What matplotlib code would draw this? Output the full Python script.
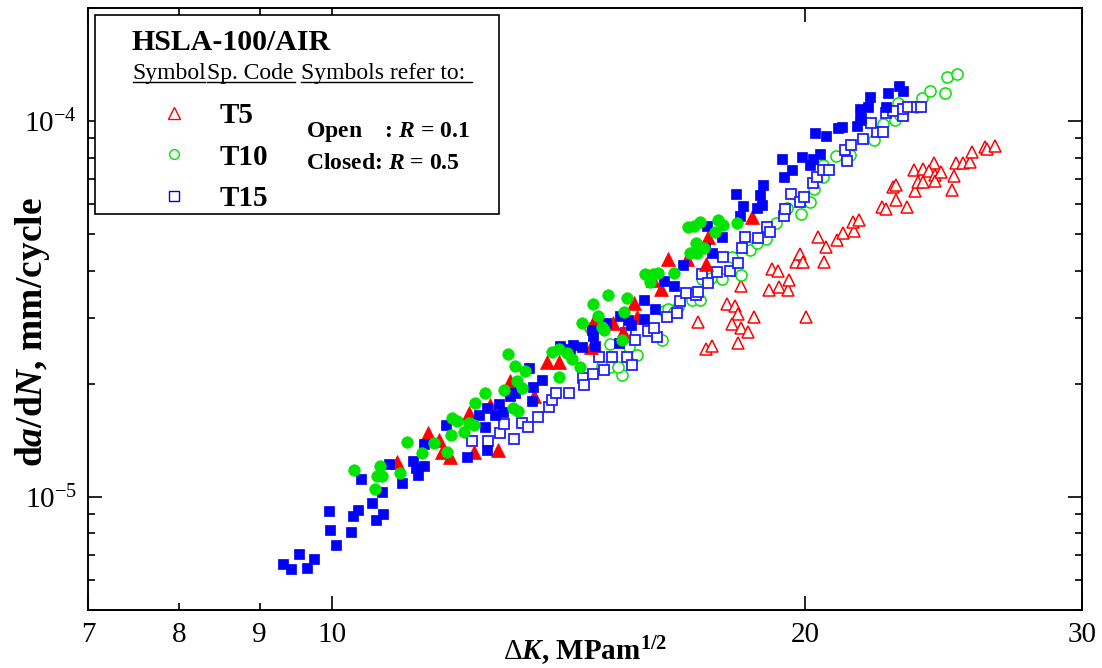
import matplotlib
matplotlib.use("Agg")
import matplotlib.pyplot as plt
import numpy as np
from matplotlib.lines import Line2D
from matplotlib.patches import Rectangle
from matplotlib.ticker import FixedLocator, FixedFormatter, NullFormatter, LogLocator, FuncFormatter

plt.rcParams['font.family'] = 'Liberation Serif'
plt.rcParams['mathtext.fontset'] = 'custom'
plt.rcParams['mathtext.rm'] = 'Liberation Serif'
plt.rcParams['mathtext.it'] = 'Liberation Serif:italic'
plt.rcParams['mathtext.bf'] = 'Liberation Serif:bold'
plt.rcParams['mathtext.bfit'] = 'Liberation Serif:bold:italic'

# da/dN values are in units of 1e-5 mm/cycle
# T5, R = 0.1 (open triangles)
t5_open_dk = [17.11, 17.30, 17.44, 17.85, 18.05, 18.14, 17.98, 18.22, 18.40, 18.14,
              18.56, 18.22, 18.96, 19.05, 19.23, 19.26, 19.51, 19.54, 19.75, 19.86,
              19.93, 20.04, 20.56, 20.63, 20.38, 20.96, 21.15, 21.50, 21.47, 21.63,
              22.37, 22.50, 22.85, 23.21, 22.76, 22.86, 23.48, 23.61, 23.78, 23.45,
              23.77, 24.15, 23.99, 24.20, 24.20, 24.41, 24.89, 24.79, 24.96, 25.22,
              25.47, 25.53, 26.01, 26.10, 26.40]
t5_open_rate = [2.92, 2.47, 2.52, 3.27, 3.23, 3.07, 2.89, 2.82, 2.74, 2.56,
                3.01, 3.64, 3.55, 4.03, 4.00, 3.61, 3.56, 3.77, 4.22, 4.43,
                4.22, 3.01, 4.21, 4.62, 4.92, 4.84, 5.05, 5.10, 5.40, 5.47,
                5.90, 5.85, 6.18, 5.92, 6.68, 6.77, 6.52, 6.87, 6.89, 7.41,
                7.45, 7.74, 7.38, 7.17, 6.93, 7.34, 7.14, 6.57, 7.72, 7.74,
                7.80, 8.29, 8.51, 8.41, 8.58]

# T5, R = 0.5 (closed triangles)
t5_closed_dk = [11.00, 11.52, 11.70, 11.75, 11.90, 12.31, 12.75, 12.23, 12.61, 12.99,
                13.02, 13.44, 13.71, 13.96, 14.62, 14.74, 14.66, 15.10, 15.57, 15.63,
                15.33, 16.01, 16.20, 16.37, 16.82, 17.29, 17.36, 18.50]
t5_closed_rate = [1.24, 1.48, 1.42, 1.32, 1.28, 1.32, 1.33, 1.67, 1.76, 2.04,
                  1.95, 1.85, 2.29, 2.29, 2.51, 2.99, 2.90, 2.90, 3.29, 3.02,
                  2.75, 3.78, 3.58, 4.29, 4.29, 4.16, 4.93, 5.54]

# T10, R = 0.1 (open circles)
t10_open_dk = [14.60, 15.03, 15.46, 15.63, 15.29, 15.04, 14.85, 15.21, 16.23, 16.28,
               16.37, 16.52, 16.60, 16.94, 17.15, 17.20, 17.43, 17.70, 17.96, 18.20,
               18.44, 18.63, 18.90, 19.18, 19.49, 19.87, 20.15, 20.27, 20.52, 20.53,
               20.94, 21.36, 22.14, 22.43, 22.81, 22.92, 22.98, 23.52, 23.74, 24.01,
               24.55, 24.61, 24.97]
t10_open_rate = [2.81, 2.55, 2.50, 2.39, 2.11, 2.22, 2.23, 2.22, 2.61, 3.12,
                 3.16, 3.10, 3.20, 3.34, 3.35, 3.79, 3.82, 3.81, 4.34, 3.90,
                 4.54, 4.75, 4.85, 5.36, 5.86, 5.66, 6.11, 6.60, 7.12, 7.64,
                 8.10, 8.15, 8.90, 9.81, 10.06, 11.17, 10.37, 10.90, 11.50, 12.06,
                 11.85, 13.07, 13.32]

# T10, R = 0.5 (closed circles)
t10_closed_dk = [10.34, 10.73, 10.69, 10.77, 10.66, 11.05, 11.16, 11.41, 11.61, 11.84,
                 11.91, 11.93, 12.01, 12.13, 12.22, 12.31, 12.34, 12.52, 12.87, 13.05,
                 13.14, 13.11, 13.22, 13.27, 13.08, 12.95, 13.81, 13.96, 14.12, 14.21,
                 13.96, 14.39, 14.42, 14.67, 14.76, 14.85, 14.89, 14.99, 15.29, 15.34,
                 15.41, 15.82, 15.94, 16.01, 16.13, 16.52, 16.85, 17.00, 17.16, 17.61,
                 17.74, 18.10, 17.54, 17.05, 17.24, 16.91, 17.07]
t10_closed_rate = [1.18, 1.21, 1.14, 1.14, 1.05, 1.16, 1.40, 1.31, 1.39, 1.32,
                   1.46, 1.62, 1.59, 1.49, 1.57, 1.55, 1.78, 1.89, 1.93, 1.72,
                   1.69, 2.04, 1.95, 2.16, 2.23, 2.40, 2.43, 2.47, 2.42, 2.33,
                   2.08, 2.22, 2.90, 3.27, 3.03, 2.84, 2.78, 3.44, 2.61, 3.11,
                   3.39, 3.93, 3.72, 3.93, 3.94, 3.94, 5.24, 5.27, 5.40, 5.45,
                   5.29, 5.34, 5.06, 4.75, 4.60, 4.47, 4.45]

# T15, R = 0.1 (open squares)
t15_open_dk = [12.28, 12.58, 12.80, 12.88, 13.07, 13.21, 13.34, 13.53, 13.75, 13.80,
               13.89, 14.16, 14.44, 14.46, 14.67, 14.89, 14.79, 15.07, 15.41, 15.53,
               15.38, 15.60, 15.89, 16.10, 16.03, 16.34, 16.57, 16.65, 16.81, 17.05,
               17.11, 17.21, 17.34, 17.58, 17.74, 17.91, 18.12, 18.23, 18.31, 18.67,
               18.91, 19.00, 19.39, 19.42, 19.59, 19.85, 19.97, 20.22, 20.34, 20.53,
               20.70, 21.26, 21.20, 21.39, 21.77, 22.21, 22.42, 22.03, 22.50, 22.75,
               23.07, 23.09, 23.26, 23.55, 23.70]
t15_open_rate = [1.41, 1.41, 1.48, 1.56, 1.43, 1.57, 1.53, 1.63, 1.73, 1.81,
                 1.89, 1.89, 2.07, 1.98, 2.12, 2.18, 2.36, 2.35, 2.36, 2.25,
                 2.73, 2.62, 2.76, 2.67, 2.81, 3.02, 3.08, 3.33, 3.49, 3.44,
                 3.51, 3.93, 3.70, 3.97, 4.36, 3.98, 4.20, 4.60, 4.92, 4.90,
                 5.23, 5.07, 5.58, 5.85, 6.40, 6.10, 6.30, 6.83, 7.08, 7.41,
                 7.41, 7.83, 8.38, 8.66, 8.95, 9.38, 9.38, 9.86, 10.54, 10.65,
                 10.29, 10.80, 10.93, 10.92, 10.92]

# T15, R = 0.5 (closed squares)
t15_closed_dk = [9.31, 9.42, 9.54, 9.65, 9.75, 10.07, 9.98, 10.29, 9.96, 10.32,
                 10.39, 10.67, 10.78, 10.61, 10.76, 10.44, 11.09, 10.88, 11.27, 11.44,
                 11.35, 11.31, 11.45, 11.82, 12.19, 12.52, 12.56, 12.40, 12.56, 12.78,
                 12.70, 12.86, 12.99, 13.08, 13.41, 13.43, 13.36, 13.61, 13.97, 14.24,
                 14.18, 14.42, 14.65, 14.66, 14.70, 14.94, 15.26, 15.44, 15.51, 15.80,
                 16.05, 15.80, 15.22, 16.27, 16.52, 16.73, 17.32, 17.45, 17.28, 17.70,
                 18.18, 18.27, 18.08, 18.63, 18.77, 18.72, 18.81, 19.33, 19.39, 19.61,
                 19.90, 20.23, 20.43, 20.14, 20.30, 20.63, 21.00, 21.10, 21.57, 21.67,
                 21.67, 21.93, 21.99, 21.72, 22.57, 22.94, 23.10, 22.50]
t15_closed_rate = [0.662, 0.644, 0.704, 0.646, 0.684, 0.744, 0.817, 0.806, 0.916, 0.887,
                   0.924, 0.869, 0.900, 0.962, 1.031, 1.116, 1.087, 1.222, 1.247, 1.211,
                   1.144, 1.192, 1.386, 1.554, 1.280, 1.53, 1.33, 1.65, 1.72, 1.77,
                   1.65, 1.68, 1.86, 1.89, 1.80, 1.96, 2.20, 2.05, 2.52, 2.54,
                   2.47, 2.50, 2.78, 2.68, 2.52, 2.90, 3.03, 2.96, 2.86, 3.35,
                   3.16, 2.98, 2.57, 3.75, 3.65, 4.15, 5.25, 4.45, 4.60, 4.92,
                   5.58, 5.95, 6.40, 5.88, 5.98, 6.35, 6.75, 7.95, 7.10, 7.40,
                   8.04, 7.95, 8.17, 7.65, 9.27, 9.12, 9.56, 9.66, 9.70, 10.06,
                   10.74, 10.90, 11.56, 10.17, 11.85, 12.40, 12.04, 10.90]

RED = '#ff0000'
GREEN = '#00e400'
BLUE = '#0000ff'

W, H = 1102, 668


def fx(px):
    return px / W


def fy(py):
    return 1 - py / H


fig = plt.figure(figsize=(W / 100, H / 100), dpi=100)
ax = fig.add_axes([fx(88), fy(610), (1082 - 88) / W, (610 - 8) / H])

unit = 1e-5
ax.plot(t5_open_dk, np.array(t5_open_rate) * unit, ls='none', marker='^', ms=9,
        mfc='white', mec=RED, mew=1.1)
ax.plot(t10_open_dk, np.array(t10_open_rate) * unit, ls='none', marker='o', ms=8,
        mfc='white', mec=GREEN, mew=1.1)
ax.plot(t15_open_dk, np.array(t15_open_rate) * unit, ls='none', marker='s', ms=7.5,
        mfc='white', mec='#2020ff', mew=1.3)
ax.plot(t5_closed_dk, np.array(t5_closed_rate) * unit, ls='none', marker='^', ms=9.5,
        mfc=RED, mec=RED, mew=0.5)
ax.plot(t15_closed_dk, np.array(t15_closed_rate) * unit, ls='none', marker='s', ms=7.5,
        mfc=BLUE, mec=BLUE, mew=0.5)
ax.plot(t10_closed_dk, np.array(t10_closed_rate) * unit, ls='none', marker='o', ms=8.3,
        mfc=GREEN, mec=GREEN, mew=0.5)

ax.set_xscale('log')
ax.set_yscale('log')
ax.set_xlim(7, 30)
ax.set_ylim(5e-6, 2e-4)

ax.xaxis.set_major_locator(FixedLocator([7, 10, 20, 30]))
ax.xaxis.set_major_formatter(FixedFormatter(['7', '10', '20', '30']))
ax.xaxis.set_minor_locator(FixedLocator([8, 9]))
ax.xaxis.set_minor_formatter(FixedFormatter(['8', '9']))
ax.yaxis.set_major_locator(LogLocator(base=10))
ax.yaxis.set_major_formatter(FuncFormatter(lambda v, p: r'$10^{%d}$' % round(np.log10(v))))
ax.yaxis.set_minor_locator(LogLocator(base=10, subs=np.arange(2, 10)))
ax.yaxis.set_minor_formatter(NullFormatter())

ax.tick_params(which='both', direction='in', top=True, right=True, labelsize=21, width=1.2)
ax.tick_params(which='major', length=10)
ax.tick_params(which='minor', length=5)
ax.tick_params(axis='x', which='both', pad=9)
ax.tick_params(axis='y', which='both', pad=8)
for s in ax.spines.values():
    s.set_linewidth(1.4)

ax.set_xlabel(r'$\Delta\mathbfit{K}$, $\mathbf{MPam}^{\mathbf{1/2}}$', fontsize=21,
              fontweight='bold')
ax.xaxis.set_label_coords(0.5, -(635 - 610) / 602)
ax.set_ylabel(r'd$\mathbfit{a}$/d$\mathbfit{N}$, mm/cycle', fontsize=27, fontweight='bold')
ax.yaxis.set_label_coords((33 - 88) / 994, 1 - (332 - 8) / 602)
ax.yaxis.label.set_va('center')

# legend box
fig.add_artist(Rectangle((fx(95), fy(214)), (499 - 95) / W, (214 - 15) / H,
                         transform=fig.transFigure, facecolor='white',
                         edgecolor='black', lw=1.2))
fig.text(fx(131), fy(50), 'HSLA-100/AIR', fontsize=21.5, fontweight='bold', va='baseline')
for x0, x1, txt in [(132.7, 205, 'Symbol'), (207.3, 295, 'Sp. Code'),
                    (300.7, 472, 'Symbols refer to:')]:
    fig.text(fx(x0), fy(79), txt, fontsize=17, va='baseline')
    fig.add_artist(Line2D([fx(x0), fx(x1)], [fy(82), fy(82)], color='black',
                          lw=1, transform=fig.transFigure))

handles = [Line2D([], [], ls='none', marker='^', ms=8, mfc='white', mec=RED, mew=1),
           Line2D([], [], ls='none', marker='o', ms=7, mfc='white', mec=GREEN, mew=1),
           Line2D([], [], ls='none', marker='s', ms=7, mfc='white', mec=BLUE, mew=1)]
fig.legend(handles, ['T5', 'T10', 'T15'], loc='upper left',
           bbox_to_anchor=(fx(159.4), fy(102)), bbox_transform=fig.transFigure,
           frameon=False, borderpad=0, borderaxespad=0, handlelength=1.0,
           handletextpad=1.07, labelspacing=0.5, numpoints=1,
           prop=dict(weight='bold', size=21))

fig.text(fx(306), fy(137), r'Open    : $\mathbfit{R}$ = 0.1',
         fontsize=17, fontweight='bold', va='baseline')
fig.text(fx(306), fy(169), r'Closed: $\mathbfit{R}$ = 0.5',
         fontsize=17, fontweight='bold', va='baseline')

fig.savefig('out.png', dpi=100)
